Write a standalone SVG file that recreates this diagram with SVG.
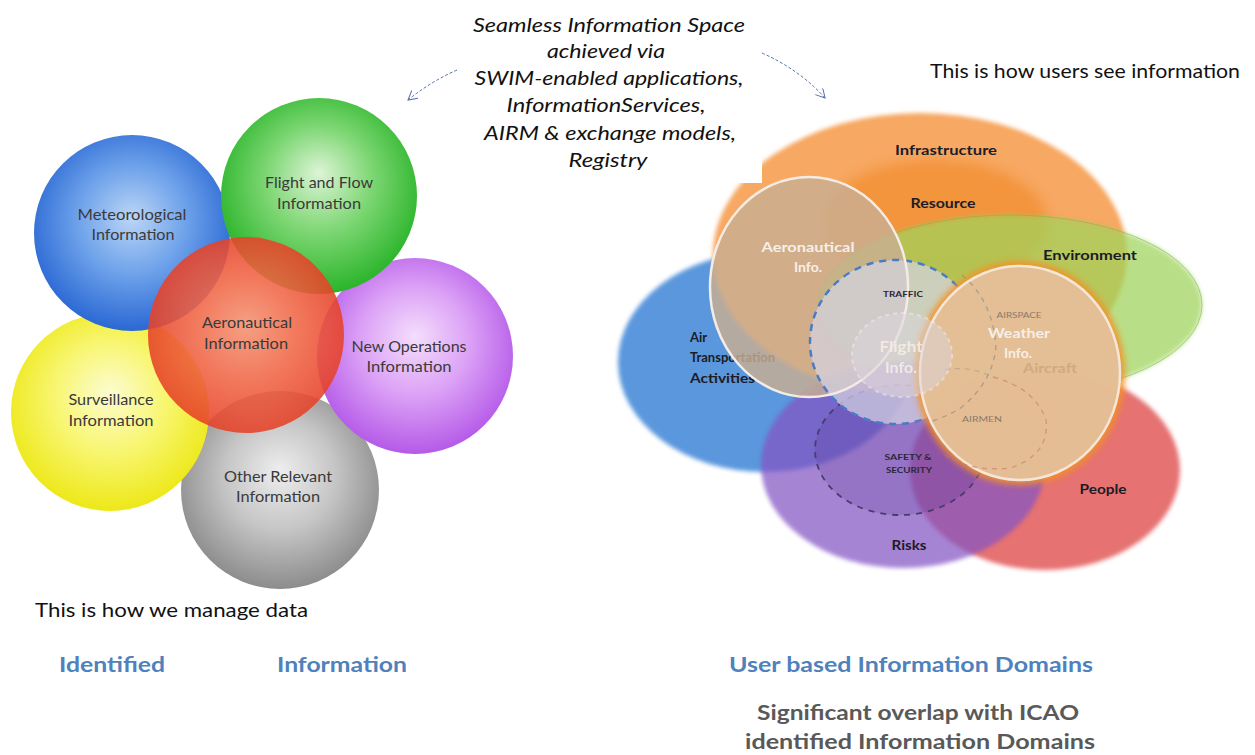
<svg xmlns="http://www.w3.org/2000/svg" width="1255" height="755" viewBox="0 0 1255 755">
<style>
.cap{font-family:Lato,"Open Sans","Liberation Sans",sans-serif;font-style:italic;font-size:20px;fill:#111;text-anchor:middle}
.plain{font-family:Lato,"Open Sans","Liberation Sans",sans-serif;font-size:20px;fill:#111}
.head{font-family:Lato,"Open Sans","Liberation Sans",sans-serif;font-weight:bold;font-size:21px;fill:#4F81BD}
.sub{font-family:Lato,"Open Sans","Liberation Sans",sans-serif;font-weight:bold;font-size:21px;fill:#595959;text-anchor:middle}
.fl{font-family:Lato,"Open Sans","Liberation Sans",sans-serif;font-size:15px;fill:#3a3a3a;text-anchor:middle}
.dl{font-family:Lato,"Open Sans","Liberation Sans",sans-serif;font-weight:bold;font-size:13px;fill:#1c1c28;text-anchor:middle}
.wl{font-family:Lato,"Open Sans","Liberation Sans",sans-serif;font-weight:bold;font-size:14px;fill:#f6efe8;text-anchor:middle}
.sm{font-family:Lato,"Open Sans","Liberation Sans",sans-serif;font-weight:bold;font-size:7px;fill:#2a2838;text-anchor:middle}
.smg{font-family:Lato,"Open Sans","Liberation Sans",sans-serif;font-size:7px;fill:#8a7a6a;text-anchor:middle}
.arrow{fill:none;stroke:#4F6FA8;stroke-width:1;stroke-dasharray:3 2}
.dom{filter:url(#soft)}
</style>
<defs>
<filter id="soft" x="-10%" y="-10%" width="120%" height="120%"><feGaussianBlur stdDeviation="2"/></filter>
<filter id="blur6" x="-30%" y="-30%" width="160%" height="160%"><feGaussianBlur stdDeviation="6"/></filter>
<filter id="blur3" x="-20%" y="-20%" width="140%" height="140%"><feGaussianBlur stdDeviation="3"/></filter>
<marker id="ah" markerWidth="12" markerHeight="12" refX="9" refY="5" orient="auto" markerUnits="userSpaceOnUse">
<path d="M0,0 L9,5 L0,10" fill="none" stroke="#4F6FA8" stroke-width="1"/>
</marker>
<radialGradient id="gBlue" cx="50%" cy="45%" r="55%" fx="50%" fy="42%"><stop offset="0" stop-color="#BCD6F6"/><stop offset="0.5" stop-color="#6EA2EA"/><stop offset="1" stop-color="#2A68D4"/></radialGradient>
<radialGradient id="gGreen" cx="50%" cy="45%" r="55%" fx="50%" fy="38%"><stop offset="0" stop-color="#DDF4D6"/><stop offset="0.5" stop-color="#7CD672"/><stop offset="1" stop-color="#2AB42A"/></radialGradient>
<radialGradient id="gRed" cx="50%" cy="50%" r="55%" fx="50%" fy="45%"><stop offset="0" stop-color="#F49272"/><stop offset="0.5" stop-color="#F06444"/><stop offset="1" stop-color="#E43A22"/></radialGradient>
<radialGradient id="gPurple" cx="50%" cy="45%" r="55%" fx="50%" fy="40%"><stop offset="0" stop-color="#F4DEFC"/><stop offset="0.5" stop-color="#DCA2F6"/><stop offset="1" stop-color="#B55AE8"/></radialGradient>
<radialGradient id="gYellow" cx="50%" cy="45%" r="55%" fx="50%" fy="40%"><stop offset="0" stop-color="#FCFCD0"/><stop offset="0.5" stop-color="#F8F672"/><stop offset="1" stop-color="#EDE818"/></radialGradient>
<radialGradient id="gGray" cx="50%" cy="45%" r="55%" fx="50%" fy="40%"><stop offset="0" stop-color="#EEEEEE"/><stop offset="0.5" stop-color="#C6C6C6"/><stop offset="1" stop-color="#8C8C8C"/></radialGradient>
<clipPath id="rclip"><path d="M600,183 H762 V100 H1255 V600 H600 Z"/></clipPath>
</defs>
<rect width="1255" height="755" fill="#fff"/>

<g id="caption-top">
<text class="cap" x="609" y="32" textLength="272" lengthAdjust="spacingAndGlyphs">Seamless Information Space</text>
<text class="cap" x="606" y="58" textLength="118" lengthAdjust="spacingAndGlyphs">achieved via</text>
<text class="cap" x="609" y="85" textLength="269" lengthAdjust="spacingAndGlyphs">SWIM-enabled applications,</text>
<text class="cap" x="606" y="112" textLength="199" lengthAdjust="spacingAndGlyphs">InformationServices,</text>
<text class="cap" x="610" y="140" textLength="252" lengthAdjust="spacingAndGlyphs">AIRM &amp; exchange models,</text>
<text class="cap" x="608" y="167" textLength="79" lengthAdjust="spacingAndGlyphs">Registry</text>
</g>

<g id="connectors">
<path class="arrow" d="M457,70 Q430,82 408,100" marker-end="url(#ah)"/>
<path class="arrow" d="M762,53 Q800,70 825,98" marker-end="url(#ah)"/>
</g>

<g id="left-flower">
<g id="other"><circle cx="280" cy="490" r="99" fill="url(#gGray)"/><text class="fl" x="278" y="482" textLength="108" lengthAdjust="spacingAndGlyphs">Other Relevant</text><text class="fl" x="278" y="502" textLength="84" lengthAdjust="spacingAndGlyphs">Information</text></g>
<g id="surveillance"><circle cx="110" cy="412" r="99" fill="url(#gYellow)"/><text class="fl" x="111" y="405" textLength="85" lengthAdjust="spacingAndGlyphs">Surveillance</text><text class="fl" x="111" y="426" textLength="85" lengthAdjust="spacingAndGlyphs">Information</text></g>
<g id="meteorological"><circle cx="132" cy="233" r="98" fill="url(#gBlue)"/><text class="fl" x="132" y="220" textLength="109" lengthAdjust="spacingAndGlyphs">Meteorological</text><text class="fl" x="133" y="240" textLength="83" lengthAdjust="spacingAndGlyphs">Information</text></g>
<g id="newops"><circle cx="415" cy="356" r="98" fill="url(#gPurple)"/><text class="fl" x="409" y="352" textLength="115" lengthAdjust="spacingAndGlyphs">New Operations</text><text class="fl" x="409" y="372" textLength="85" lengthAdjust="spacingAndGlyphs">Information</text></g>
<g id="flightflow"><circle cx="319" cy="196" r="98" fill="url(#gGreen)"/><text class="fl" x="319" y="188" textLength="108" lengthAdjust="spacingAndGlyphs">Flight and Flow</text><text class="fl" x="319" y="209" textLength="84" lengthAdjust="spacingAndGlyphs">Information</text></g>
<g id="aeronautical"><circle cx="246" cy="335" r="98" fill="url(#gRed)" opacity="0.88"/><text class="fl" x="247" y="328" textLength="90" lengthAdjust="spacingAndGlyphs">Aeronautical</text><text class="fl" x="246" y="349" textLength="84" lengthAdjust="spacingAndGlyphs">Information</text></g>
</g>

<g id="right-domains" clip-path="url(#rclip)">
<g id="air-transport"><ellipse class="dom" cx="765" cy="362" rx="147" ry="110" fill="#4D8FDA" opacity="0.92"/></g>
<g id="infrastructure"><ellipse class="dom" cx="920" cy="255" rx="207" ry="142" fill="#F7A862"/></g>
<g id="resource"><ellipse cx="935" cy="222" rx="112" ry="62" fill="#F28A2C" opacity="0.65" filter="url(#blur6)"/></g>
<g id="environment"><ellipse class="dom" cx="1010" cy="305" rx="192" ry="90" fill="#9ED45A" opacity="0.72"/><ellipse cx="1010" cy="305" rx="192" ry="90" fill="none" stroke="#7FB850" stroke-width="1" opacity="0.6"/></g>
<g id="people"><ellipse class="dom" cx="1045" cy="470" rx="135" ry="100" fill="#E0504F" opacity="0.8"/></g>
<g id="risks"><ellipse class="dom" cx="903" cy="465" rx="142" ry="103" fill="#8454C4" opacity="0.72"/></g>
<text class="dl" x="690" y="342" style="text-anchor:start">Air</text>
<text class="dl" x="690" y="362" style="text-anchor:start">Transportation</text>
<text class="dl" x="690" y="383" style="text-anchor:start" textLength="65" lengthAdjust="spacingAndGlyphs">Activities</text>
<g id="safety"><ellipse cx="900" cy="450" rx="85" ry="65" fill="#4A2E8A" fill-opacity="0.18" stroke="#4A3C6C" stroke-width="1.8" stroke-dasharray="6 6"/></g>
<g id="aero-info"><ellipse cx="809" cy="287" rx="99" ry="110" fill="#C9AE93" opacity="0.82"/></g>
<g id="traffic"><ellipse cx="895" cy="342" rx="85" ry="82" fill="#D4D2E2" opacity="0.72"/><ellipse cx="895" cy="342" rx="85" ry="82" fill="none" stroke="#4A7CC6" stroke-width="2.5" stroke-dasharray="7 6"/></g>
<ellipse cx="809" cy="287" rx="99" ry="110" fill="none" stroke="#F4ECE4" stroke-width="2.5"/>
<g id="weather-info"><ellipse cx="1020" cy="373" rx="105" ry="112" fill="#F39228" opacity="0.9" filter="url(#blur3)"/><ellipse cx="1020" cy="373" rx="100" ry="107" fill="#E4C29E" opacity="0.92" stroke="#F6EEE6" stroke-width="2.5"/></g>
<g id="inner-dashes" fill="none" stroke-width="1.3" stroke-dasharray="5 5">
<path d="M962,275 Q992,300 996,345 Q994,380 962,407 Q945,418 928,422" stroke="#9C9488" opacity="0.8"/>
<path d="M993,377 Q1035,388 1046,420 Q1050,455 1010,468 Q970,472 945,455" stroke="#C87A60" opacity="0.6"/>
<path d="M945,370 Q968,365 993,377" stroke="#A89C90" opacity="0.6"/>
</g>
<g id="flight-info"><ellipse cx="902" cy="355" rx="50" ry="42" fill="#DCD6DE" opacity="0.5" stroke="#F6F2F6" stroke-width="2" stroke-dasharray="4 4"/></g>
<text class="dl" x="946" y="155" textLength="102" lengthAdjust="spacingAndGlyphs">Infrastructure</text>
<text class="dl" x="943" y="208" textLength="65" lengthAdjust="spacingAndGlyphs">Resource</text>
<text class="dl" x="1090" y="260" textLength="94" lengthAdjust="spacingAndGlyphs">Environment</text>
<text class="dl" x="1103" y="494" textLength="47" lengthAdjust="spacingAndGlyphs">People</text>
<text class="dl" x="909" y="550" textLength="35" lengthAdjust="spacingAndGlyphs">Risks</text>
<text class="wl" x="808" y="252" textLength="93" lengthAdjust="spacingAndGlyphs">Aeronautical</text>
<text class="wl" x="808" y="272">Info.</text>
<text class="wl" x="1019" y="338" textLength="62" lengthAdjust="spacingAndGlyphs">Weather</text>
<text class="wl" x="1018" y="358">Info.</text>
<text class="wl" x="901" y="352" style="font-size:16px" opacity="0.85" textLength="43" lengthAdjust="spacingAndGlyphs">Flight</text>
<text class="wl" x="901" y="373" style="font-size:16px" opacity="0.85">Info.</text>
<text class="dl" x="1050" y="373" style="fill:#CFAA84" textLength="54" lengthAdjust="spacingAndGlyphs">Aircraft</text>
<text class="sm" x="903" y="297" textLength="40" lengthAdjust="spacingAndGlyphs">TRAFFIC</text>
<text class="smg" x="1019" y="318" textLength="45" lengthAdjust="spacingAndGlyphs">AIRSPACE</text>
<text class="smg" x="982" y="422" textLength="40" lengthAdjust="spacingAndGlyphs">AIRMEN</text>
<text class="sm" x="908" y="460" textLength="47" lengthAdjust="spacingAndGlyphs">SAFETY &amp;</text>
<text class="sm" x="909" y="473" textLength="46" lengthAdjust="spacingAndGlyphs">SECURITY</text>
</g>

<g id="captions-bottom">
<text class="plain" x="930" y="78" textLength="310" lengthAdjust="spacingAndGlyphs">This is how users see information</text>
<text class="plain" x="35" y="617" textLength="273" lengthAdjust="spacingAndGlyphs">This is how we manage data</text>
<text class="head" x="59" y="672" textLength="106" lengthAdjust="spacingAndGlyphs">Identified</text>
<text class="head" x="277" y="672" textLength="130" lengthAdjust="spacingAndGlyphs">Information</text>
<text class="head" x="729" y="672" textLength="364" lengthAdjust="spacingAndGlyphs">User based Information Domains</text>
<text class="sub" x="918" y="720" textLength="322" lengthAdjust="spacingAndGlyphs">Significant overlap with ICAO</text>
<text class="sub" x="920" y="749" textLength="350" lengthAdjust="spacingAndGlyphs">identified Information Domains</text>
</g>
</svg>
